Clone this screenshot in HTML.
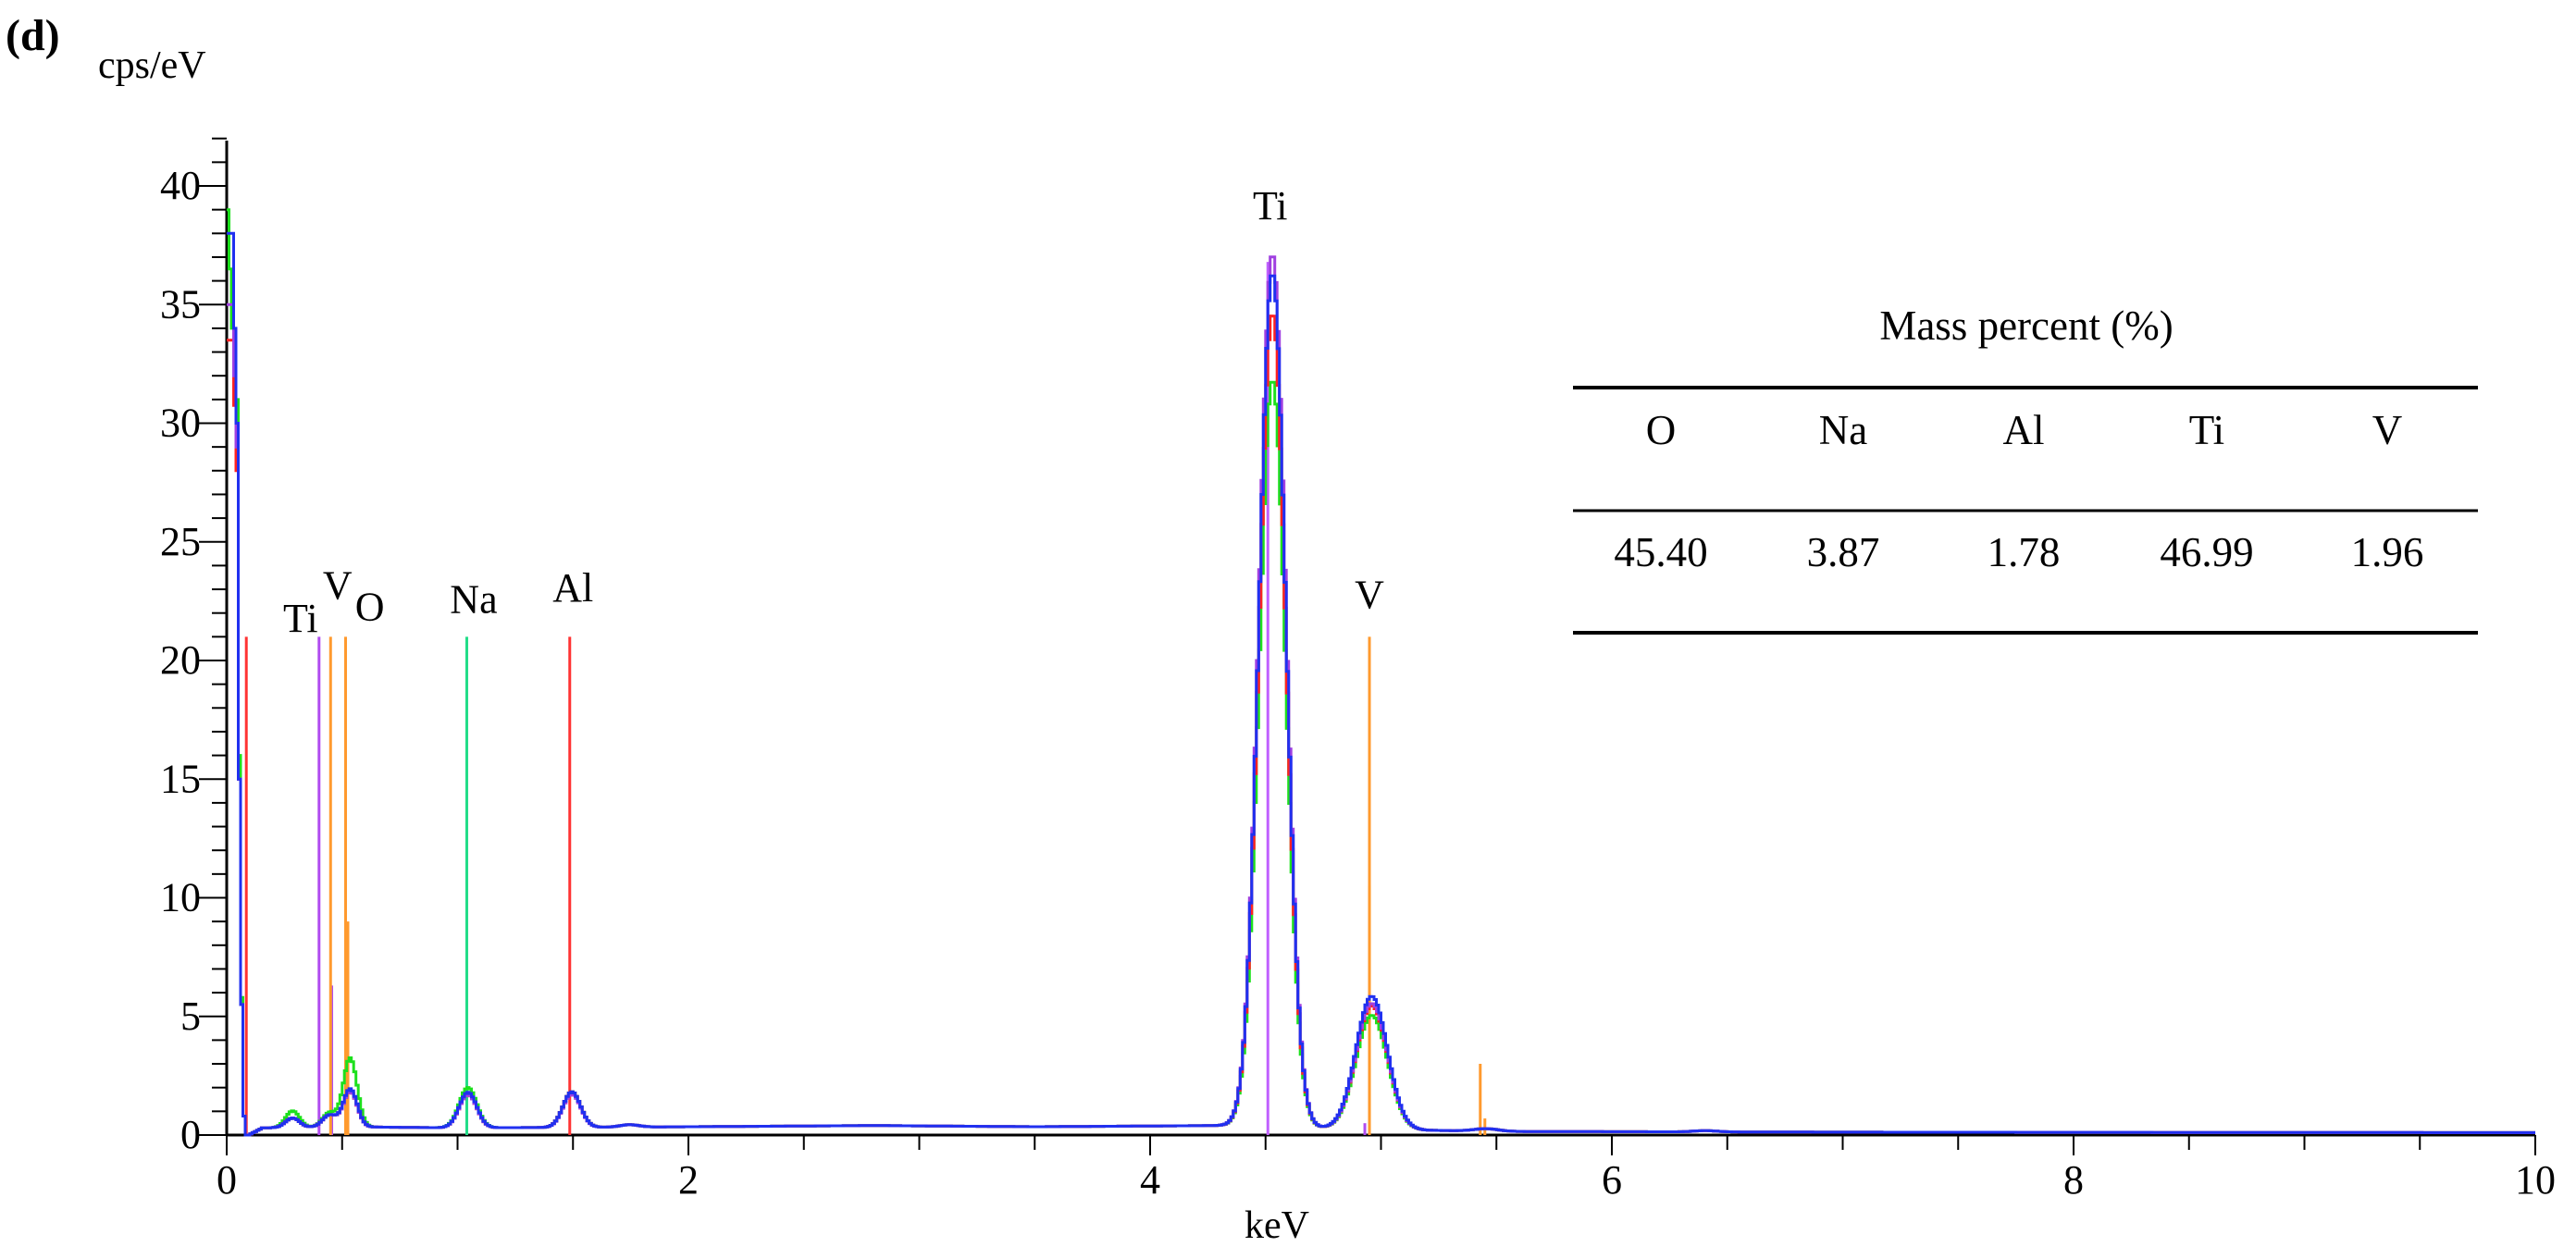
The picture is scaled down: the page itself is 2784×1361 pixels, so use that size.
<!DOCTYPE html>
<html><head><meta charset="utf-8">
<style>
html,body{margin:0;padding:0;background:#fff;}
svg{display:block;font-family:"Liberation Serif",serif;}
</style></head>
<body>
<svg id="chart" width="2784" height="1361" viewBox="0 0 2784 1361" xmlns="http://www.w3.org/2000/svg">
<text x="6" y="54" font-size="48" font-weight="bold">(d)</text>
<text x="106" y="84" font-size="42">cps/eV</text>
<text x="1380" y="1338" font-size="42" text-anchor="middle">keV</text>
<g id="axes"></g>
<g id="markers"></g>
<g id="series"></g>
<g id="labels"></g>
<g font-size="45">
<text x="2190" y="367" text-anchor="middle">Mass percent (%)</text>
<line x1="1700" y1="419" x2="2678" y2="419" stroke="#000" stroke-width="4"/>
<line x1="1700" y1="552" x2="2678" y2="552" stroke="#000" stroke-width="3"/>
<line x1="1700" y1="684" x2="2678" y2="684" stroke="#000" stroke-width="4"/>
<g id="tbl"></g>
</g>
</svg>
<script>
const tblElems=["O","Na","Al","Ti","V"];
const tblVals=["45.40","3.87","1.78","46.99","1.96"];
const xTicks=[0,2,4,6,8,10];
const yTicks=[0,5,10,15,20,25,30,35,40];
// peaks per series: centers (keV), heights (cps/eV), widths (sigma keV)
const peakCenters=[0.28,0.44,0.53,1.04,1.49,1.74,4.525,4.955,5.45,6.40];
const peakWidths=[0.03,0.03,0.03,0.038,0.038,0.04,0.058,0.068,0.05,0.05];
const hBlue  =[0.4,0.5,1.6,1.5,1.5,0.1,36.0,5.6,0.1,0.05];
const hPurple=[0.4,0.5,1.5,1.4,1.4,0.1,36.8,5.3,0.1,0.05];
const hRed   =[0.4,0.5,1.5,1.4,1.5,0.1,34.3,5.2,0.1,0.05];
const hGreen =[0.7,0.6,2.9,1.7,1.5,0.1,31.5,4.8,0.1,0.05];
// near-zero noise peak (keV, value) for each series
const zeroX=[0,0.02,0.04,0.05,0.06,0.07,0.08,0.09];
const zeroBlue=[38,38,30,15,5.5,0.8,0,0];
const zeroPurple=[35,35,29,15,5.5,0.8,0,0];
const zeroRed=[33.5,33.5,28,15,5.5,0.8,0,0];
const zeroGreen=[39,34,31,16,5.8,0.8,0,0];
// background continuum (keV, value)
const bgX=[0.09,0.15,0.5,1.0,2.0,2.8,3.5,4.3,4.7,5.2,5.6,7,10];
const bgY=[0,0.3,0.35,0.3,0.35,0.4,0.35,0.4,0.3,0.2,0.15,0.12,0.1];
// element marker lines: keV, height, color
const mkX=[0.085,0.40,0.455,0.45,0.515,0.525,1.04,1.486,4.51,4.95,4.95,4.93,5.43,5.45];
const mkH=[21,21,6.3,21,21,9,21,21,36.8,21,10.5,0.5,3,0.7];
const mkC=["#f33","#b04cf0","#b04cf0","#ff9a2e","#ff9a2e","#ff9a2e","#22dd88","#f33","#c060ff","#ff9a2e","#ff9a2e","#b04cf0","#ff9a2e","#ff9a2e"];
const lblText=["Ti","V","O","Na","Al","Ti","V"];
const lblX=[0.32,0.48,0.62,1.07,1.5,4.52,4.95];
const lblY=[21.2,22.6,21.7,22.0,22.5,38.6,22.2];

const NS="http://www.w3.org/2000/svg";
const X0=245,X1=2740,Y0=1227,YU=25.65;
const sx=v=>X0+(X1-X0)*v/10, sy=v=>Y0-v*YU;
function mk(tag,attrs,parent){const e=document.createElementNS(NS,tag);for(const k in attrs)e.setAttribute(k,attrs[k]);parent.appendChild(e);return e;}
const axes=document.getElementById('axes');
let a=mk('line',{x1:X0,y1:Y0,x2:X0,y2:152,stroke:'#000','stroke-width':3},axes);


a=mk('line',{x1:X0,y1:Y0,x2:X1,y2:Y0,stroke:'#000','stroke-width':3},axes);


for(let i=0;i<=42;i++){const y=sy(i);const major=i%5===0;
 const t=mk('line',{x1:X0-(major?30:16),y1:y,x2:X0,y2:y,stroke:'#000','stroke-width':2},axes);
 
 }
yTicks.forEach(v=>{const t=mk('text',{x:X0-28,y:sy(v)+14,'font-size':44,'text-anchor':'end'},axes);t.textContent=v;
 
 });
for(let i=0;i<=20;i++){const x=sx(i/2);
 const t=mk('line',{x1:x,y1:Y0,x2:x,y2:Y0+(i%4===0?22:16),stroke:'#000','stroke-width':2},axes);
 
 }
xTicks.forEach(v=>{const t=mk('text',{x:sx(v),y:1290,'font-size':44,'text-anchor':'middle'},axes);t.textContent=v;
 
 });
const mg=document.getElementById('markers');
mkX.forEach((v,i)=>{const l=mk('line',{x1:sx(v),y1:Y0,x2:sx(v),y2:sy(mkH[i]),stroke:mkC[i],'stroke-width':3},mg);
 
 });
function interp(xs,ys,x){if(x<=xs[0])return ys[0];for(let i=1;i<xs.length;i++)if(x<=xs[i]){const t=(x-xs[i-1])/(xs[i]-xs[i-1]);return ys[i-1]+t*(ys[i]-ys[i-1]);}return ys[ys.length-1];}
function build(h,z){let d='';const step=0.01;let prev=null;
 for(let i=0;i<=1000;i++){const x=i*step;let v;
  if(x<=0.09)v=interp(zeroX,z,x);
  else{v=interp(bgX,bgY,x);for(let k=0;k<peakCenters.length;k++){const u=(x-peakCenters[k])/peakWidths[k];v+=h[k]*Math.exp(-0.5*u*u);}}
  const px=sx(x).toFixed(1),py=sy(v).toFixed(1);
  if(prev===null)d+='M'+px+' '+py;else d+='H'+px+'V'+py;prev=v;}
 return d;}
const sg=document.getElementById('series');
[[hGreen,zeroGreen,'#1de01d','series-green'],[hRed,zeroRed,'#f22','series-red'],[hPurple,zeroPurple,'#a040e0','series-purple'],[hBlue,zeroBlue,'#2030f0','series-blue']].forEach(s=>{
 const p=mk('path',{d:build(s[0],s[1]),fill:'none',stroke:s[2],'stroke-width':3},sg);
 
 });
const lg=document.getElementById('labels');
lblText.forEach((t,i)=>{const e=mk('text',{x:sx(lblX[i]),y:sy(lblY[i]),'font-size':44,'text-anchor':'middle'},lg);e.textContent=t;
 
 });
const tg=document.getElementById('tbl');
const cx=[1795,1992,2187,2385,2580];
tblElems.forEach((t,i)=>{const e=mk('text',{x:cx[i],y:480,'text-anchor':'middle'},tg);e.textContent=t;
 
 
 const v=mk('text',{x:cx[i],y:612,'text-anchor':'middle'},tg);v.textContent=tblVals[i];
 
 });
</script>
</body></html>
